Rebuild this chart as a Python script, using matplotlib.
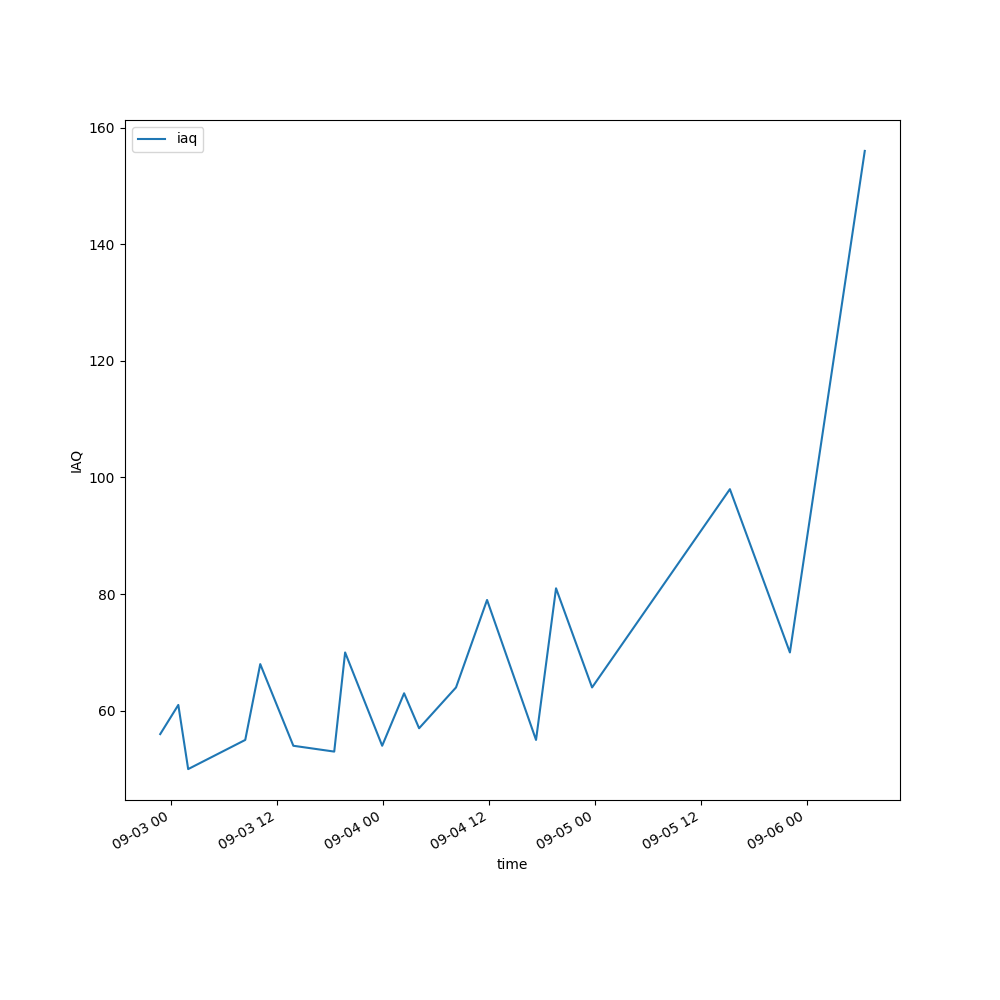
import pandas as pd
import matplotlib
matplotlib.use('Agg')
import matplotlib.pyplot as plt

times = ['2020-09-02 22:45', '2020-09-03 00:48', '2020-09-03 01:55', '2020-09-03 08:23',
         '2020-09-03 10:05', '2020-09-03 13:50', '2020-09-03 18:28', '2020-09-03 19:42',
         '2020-09-03 23:54', '2020-09-04 02:23', '2020-09-04 04:05', '2020-09-04 08:16',
         '2020-09-04 11:47', '2020-09-04 17:20', '2020-09-04 19:36', '2020-09-04 23:41',
         '2020-09-05 15:18', '2020-09-05 22:06', '2020-09-06 06:35']
iaq = [56, 61, 50, 55, 68, 54, 53, 70, 54, 63, 57, 64, 79, 55, 81, 64, 98, 70, 156]

t = pd.to_datetime(times)

fig, ax = plt.subplots(figsize=(10, 10), dpi=100)
ax.plot(t, iaq, label='iaq')
ax.set_xlabel('time')
ax.set_ylabel('IAQ')
ax.legend(loc='upper left')
fig.autofmt_xdate()
fig.savefig('out.png')
